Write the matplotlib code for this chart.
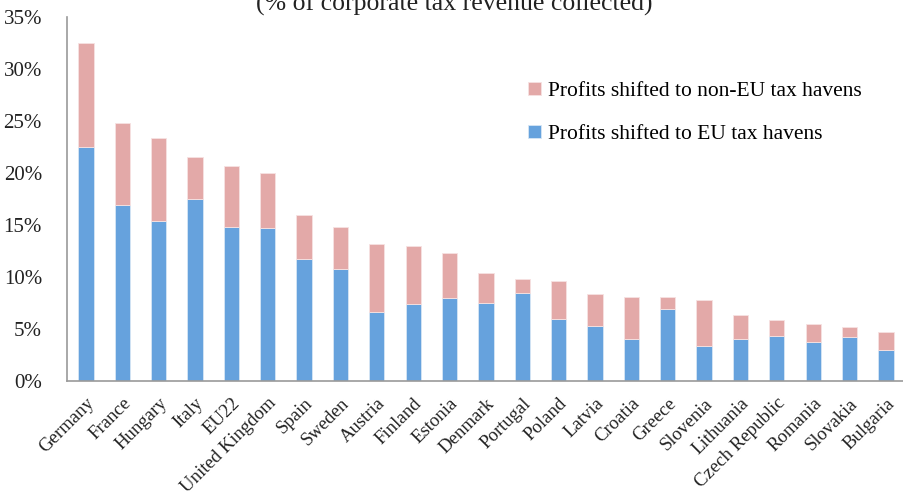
import matplotlib
matplotlib.use("Agg")
import matplotlib.pyplot as plt
import numpy as np

countries = ["Germany", "France", "Hungary", "Italy", "EU22", "United Kingdom", "Spain",
             "Sweden", "Austria", "Finland", "Estonia", "Denmark", "Portugal", "Poland",
             "Latvia", "Croatia", "Greece", "Slovenia", "Lithuania", "Czech Republic",
             "Romania", "Slovakia", "Bulgaria"]
# shifted to EU tax havens (% of CIT revenue)
eu_havens = [22.5, 16.9, 15.4, 17.5, 14.8, 14.7, 11.7, 10.8, 6.6, 7.4, 8.0, 7.5, 8.5,
             6.0, 5.3, 4.0, 6.9, 3.4, 4.0, 4.3, 3.7, 4.2, 3.0]
# total profits shifted
total = [32.5, 24.8, 23.4, 21.5, 20.7, 20.0, 16.0, 14.8, 13.2, 13.0, 12.3, 10.4, 9.8,
         9.6, 8.4, 8.1, 8.1, 7.8, 6.3, 5.9, 5.5, 5.2, 4.7]
non_eu_havens = [t - e for t, e in zip(total, eu_havens)]

plt.rcParams['font.family'] = ['Liberation Serif', 'DejaVu Serif']

fig = plt.figure(figsize=(9.04, 4.98), dpi=100)
ax = fig.add_axes([0.0741, 0.235, 0.926, 0.731])

x = np.arange(len(countries))
w = 0.42
ax.bar(x, eu_havens, w, color='#66A2DD', edgecolor='#D6E6F5', linewidth=0.6,
       label='Profits shifted to EU tax havens')
ax.bar(x, non_eu_havens, w, bottom=eu_havens, color='#E3A9A8', edgecolor='#F6E2E2',
       linewidth=0.6, label='Profits shifted to non-EU tax havens')

ax.set_xlim(-0.52, len(countries) - 0.5)
ax.set_ylim(0, 35)
ax.set_yticks(np.arange(0, 36, 5))
ax.set_yticklabels([f"{v}%" for v in range(0, 36, 5)], fontsize=15, color='#222222')
ax.set_xticks(x)
ax.set_xticklabels(countries, rotation=45, ha='right', rotation_mode='anchor',
                   fontsize=13.5, color='#222222')
ax.tick_params(axis='x', length=0, pad=10)
ax.tick_params(axis='y', length=0, pad=18)
for s in ['top', 'right']:
    ax.spines[s].set_visible(False)
for s in ['left', 'bottom']:
    ax.spines[s].set_color('#9A9A9A')
    ax.spines[s].set_linewidth(1.2)

h, l = ax.get_legend_handles_labels()
ax.legend(h[::-1], l[::-1], loc='upper left', bbox_to_anchor=(0.563, 0.875),
          bbox_transform=fig.transFigure, frameon=False, fontsize=15.5,
          handlelength=0.6, handleheight=0.6, handletextpad=0.3, labelspacing=1.1)

fig.text(0.503, 0.992, "(% of corporate tax revenue collected)", ha='center',
         va='center', fontsize=18.5, color='#222222')

fig.savefig("out.png", dpi=100)
